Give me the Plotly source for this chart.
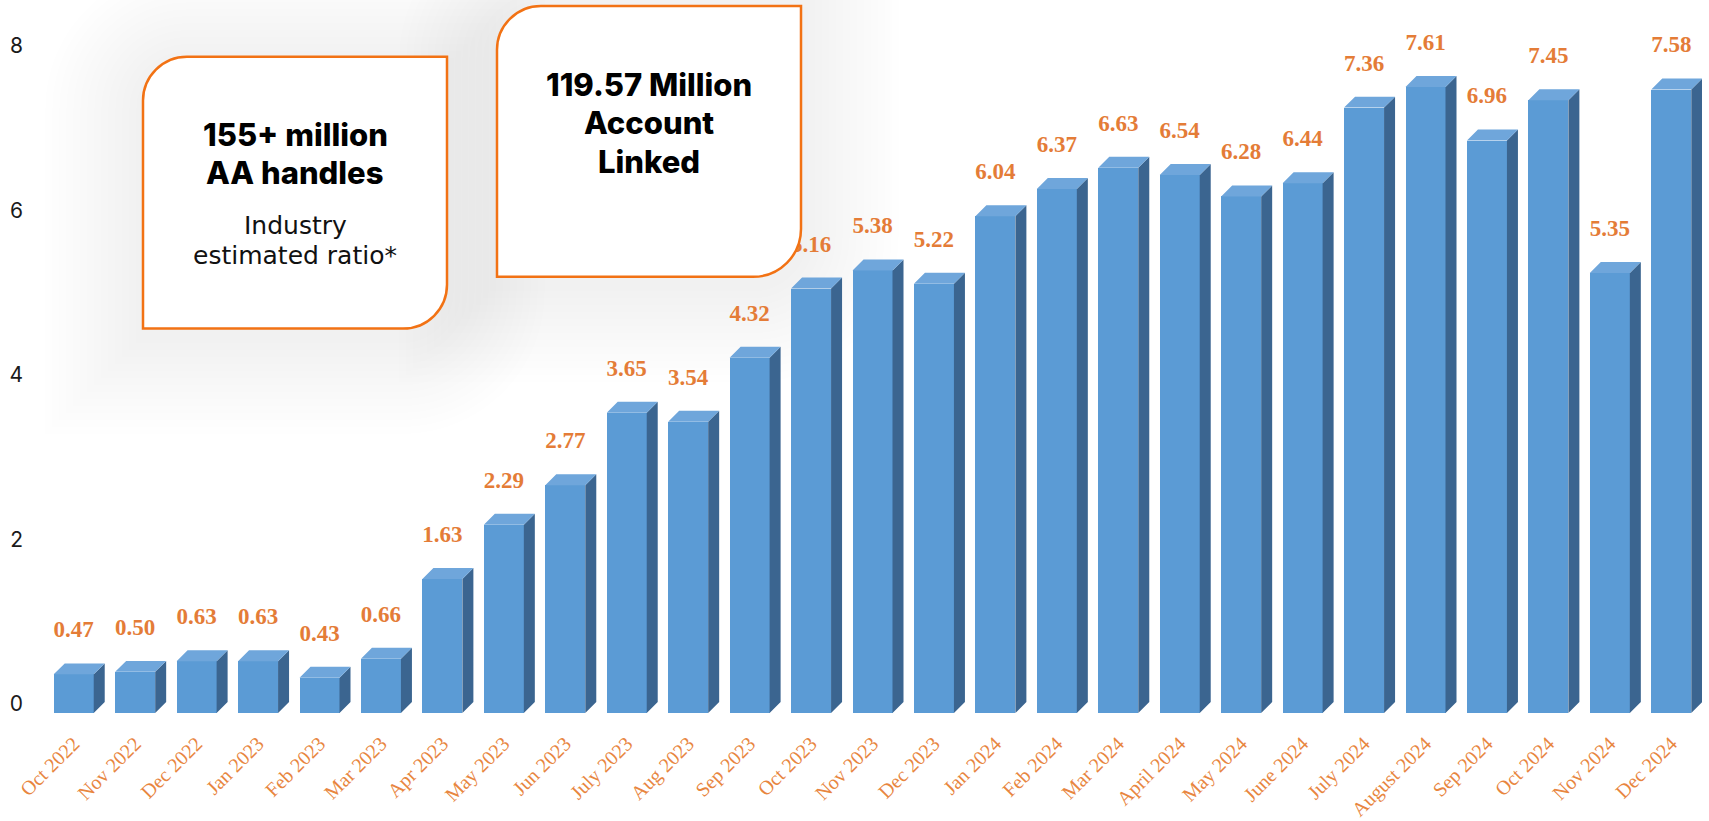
import plotly.graph_objects as go

# Monthly accounts linked (millions)
months = [
    "Oct 2022", "Nov 2022", "Dec 2022", "Jan 2023", "Feb 2023", "Mar 2023",
    "Apr 2023", "May 2023", "Jun 2023", "July 2023", "Aug 2023", "Sep 2023",
    "Oct 2023", "Nov 2023", "Dec 2023", "Jan 2024", "Feb 2024", "Mar 2024",
    "April 2024", "May 2024", "June 2024", "July 2024", "August 2024",
    "Sep 2024", "Oct 2024", "Nov 2024", "Dec 2024",
]
linked = [
    0.47, 0.50, 0.63, 0.63, 0.43, 0.66, 1.63, 2.29, 2.77, 3.65, 3.54, 4.32,
    5.16, 5.38, 5.22, 6.04, 6.37, 6.63, 6.54, 6.28, 6.44, 7.36, 7.61, 6.96,
    7.45, 5.35, 7.58,
]
y_ticks = [0, 2, 4, 6, 8]

# ---- page geometry -------------------------------------------------------
FIG_W, FIG_H = 1709, 821
M_L, M_R, M_T, M_B = 43, 7, 0, 105
PLOT_W = FIG_W - M_L - M_R
PLOT_H = FIG_H - M_T - M_B
PX_PER_UNIT = 82.6
Y_MAX = PLOT_H / PX_PER_UNIT
N = len(months)
X_MIN, X_MAX = -0.5, N - 0.5

BAR_W = 0.651                          # front face width, category units
DEPTH_PX = 11                          # oblique depth of the 3-D look
DX = DEPTH_PX * (X_MAX - X_MIN) / PLOT_W
DY = DEPTH_PX * Y_MAX / PLOT_H
LABEL_GAP = 43 / PX_PER_UNIT           # value label above the front face

FRONT = "#5B9BD5"
SIDE = "#3B6590"
TOP = "#6FA6DB"
ORANGE_TXT = "#E47C37"
BOX_LINE = "#F27214"

idx = list(range(N))

# side and top faces as filled polygons in data space
side_x, side_y, top_x, top_y = [], [], [], []
for i, v in zip(idx, linked):
    xl, xr = i - BAR_W / 2, i + BAR_W / 2
    side_x += [xr, xr + DX, xr + DX, xr, xr, None]
    side_y += [0, DY, v + DY, v, 0, None]
    top_x += [xl, xr, xr + DX, xl + DX, xl, None]
    top_y += [v, v, v + DY, v + DY, v, None]

fig = go.Figure()
fig.add_trace(go.Bar(
    x=idx, y=linked, width=BAR_W,
    marker=dict(color=FRONT, line=dict(width=0)),
    hoverinfo="skip", showlegend=False,
))
fig.add_trace(go.Scatter(
    x=side_x, y=side_y, mode="lines", fill="toself", fillcolor=SIDE,
    line=dict(width=0, color=SIDE), hoverinfo="skip", showlegend=False,
))
fig.add_trace(go.Scatter(
    x=top_x, y=top_y, mode="lines", fill="toself", fillcolor=TOP,
    line=dict(width=0, color=TOP), hoverinfo="skip", showlegend=False,
))
fig.add_trace(go.Scatter(
    x=idx, y=[v + LABEL_GAP for v in linked],
    text=[f"{v:.2f}" for v in linked], mode="text",
    textposition="middle center",
    textfont=dict(family="Liberation Serif", size=23, color=ORANGE_TXT,
                  weight="bold"),
    cliponaxis=False, hoverinfo="skip", showlegend=False,
))


# ---- callout boxes (pixel layout converted to paper space) ---------------
def px_x(px):
    return (px - M_L) / PLOT_W


def px_y(py):
    return 1 - (py - M_T) / PLOT_H


K = 0.5523


def box_path(x0, y0, x1, y1, r_tl, r_br):
    pts = []
    pts.append(f"M {px_x(x0)} {px_y(y0 + r_tl)}")
    pts.append(
        f"C {px_x(x0)} {px_y(y0 + r_tl - K * r_tl)} "
        f"{px_x(x0 + r_tl - K * r_tl)} {px_y(y0)} "
        f"{px_x(x0 + r_tl)} {px_y(y0)}"
    )
    pts.append(f"L {px_x(x1)} {px_y(y0)}")
    pts.append(f"L {px_x(x1)} {px_y(y1 - r_br)}")
    pts.append(
        f"C {px_x(x1)} {px_y(y1 - r_br + K * r_br)} "
        f"{px_x(x1 - r_br + K * r_br)} {px_y(y1)} "
        f"{px_x(x1 - r_br)} {px_y(y1)}"
    )
    pts.append(f"L {px_x(x0)} {px_y(y1)}")
    pts.append("Z")
    return " ".join(pts)


boxes = [
    (143, 57, 447, 330, 44, 44),
    (497, 6, 801, 278, 44, 48),
]

shapes = []
for (x0, y0, x1, y1, rt, rb) in boxes:
    # soft drop shadow built from stacked translucent outlines
    for k in range(1, 15):
        e = k * 7
        shapes.append(dict(
            type="path", xref="paper", yref="paper", layer="below",
            path=box_path(x0 - e, y0 - e + 8, x1 + e, y1 + e + 8,
                          rt + e, rb + e),
            fillcolor="rgba(0,0,0,0.0038)", line=dict(width=0),
        ))
for (x0, y0, x1, y1, rt, rb) in boxes:
    shapes.append(dict(
        type="path", xref="paper", yref="paper", layer="above",
        path=box_path(x0, y0, x1, y1, rt, rb),
        fillcolor="white", line=dict(color=BOX_LINE, width=2.5),
    ))

TITLE_FONT = dict(family="Inter", size=31, color="#000000", weight=800)
SUB_FONT = dict(family="DejaVu Sans", size=25, color="#111111")
box_text = [
    ("155+ million", 295, 135, TITLE_FONT),
    ("AA handles", 295, 173, TITLE_FONT),
    ("Industry", 295, 226, SUB_FONT),
    ("estimated ratio*", 295, 257, SUB_FONT),
    ("119.57 Million", 649, 85, TITLE_FONT),
    ("Account", 649, 123, TITLE_FONT),
    ("Linked", 649, 162, TITLE_FONT),
]
annotations = [
    dict(text=t, x=px_x(cx), y=px_y(cy), xref="paper", yref="paper",
         xanchor="center", yanchor="middle", showarrow=False, font=f)
    for (t, cx, cy, f) in box_text
]

fig.update_layout(
    width=FIG_W, height=FIG_H, autosize=False,
    margin=dict(l=M_L, r=M_R, t=M_T, b=M_B, pad=0),
    paper_bgcolor="white", plot_bgcolor="white",
    showlegend=False, bargap=0,
    shapes=shapes, annotations=annotations,
    xaxis=dict(
        range=[X_MIN, X_MAX], tickmode="array", tickvals=idx,
        ticktext=months, tickangle=-45, showgrid=False, zeroline=False,
        showline=False, ticks="", ticklabelstandoff=14,
        tickfont=dict(family="Liberation Serif", size=20, color="#E8863F"),
    ),
    yaxis=dict(
        range=[0, Y_MAX], tickmode="array", tickvals=y_ticks,
        showgrid=False, zeroline=False, showline=False, ticks="",
        ticklabelshift=-9, ticklabelstandoff=19,
        tickfont=dict(family="Inter", size=21, color="#1A1A1A"),
    ),
)

fig.write_html("out.html")
